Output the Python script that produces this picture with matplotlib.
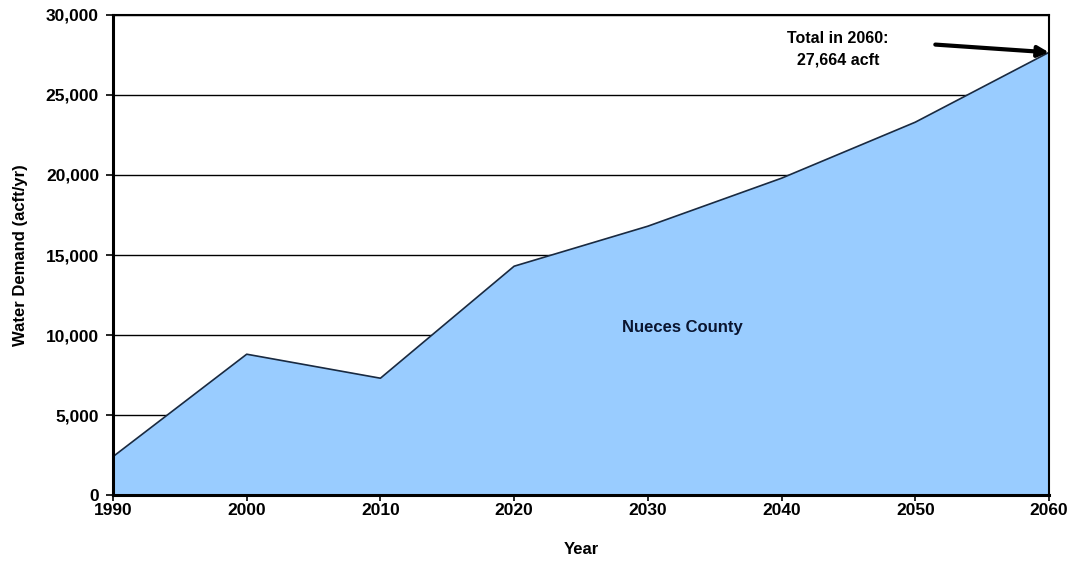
import matplotlib.pyplot as plt
from matplotlib.ticker import FuncFormatter

# Data
years = [1990, 2000, 2010, 2020, 2030, 2040, 2050, 2060]
demand = [2400, 8800, 7300, 14300, 16800, 19800, 23300, 27664]

plt.rcParams['font.family'] = ['Liberation Sans', 'DejaVu Sans']
plt.rcParams['font.weight'] = 'bold'

fig = plt.figure(figsize=(10.73, 5.61), dpi=100)
ax = fig.add_axes([0.1053, 0.1176, 0.8723, 0.8557])

# grid behind the filled area
for y in range(5000, 30001, 5000):
    ax.axhline(y, color='black', lw=1.0, zorder=0)

ax.fill_between(years, demand, 0, color='#99CCFF', zorder=1)
ax.plot(years, demand, color='#1a2a40', lw=1.2, zorder=2)

ax.set_xlim(1990, 2060)
ax.set_ylim(0, 30000)
ax.set_xticks(years)
ax.set_yticks(range(0, 30001, 5000))
ax.yaxis.set_major_formatter(FuncFormatter(lambda v, p: f'{int(v):,}'))
ax.tick_params(labelsize=12.5, length=5, width=1.2, direction='out', pad=5)
ax.tick_params(axis='x', length=4, pad=2)
for lab in ax.get_xticklabels() + ax.get_yticklabels():
    lab.set_fontweight('bold')

for side in ['left', 'bottom']:
    ax.spines[side].set_linewidth(2.2)
for side in ['top', 'right']:
    ax.spines[side].set_linewidth(1.5)
ax.spines['top'].set_zorder(3)

ax.set_xlabel('Year', fontsize=12, fontweight='bold', labelpad=17)
ax.set_ylabel('Water Demand (acft/yr)', fontsize=12, fontweight='bold', labelpad=13)

ax.text(2032.6, 10500, 'Nueces County', fontsize=12, fontweight='bold',
        color='#0a1530', ha='center', va='center', zorder=4)

# Annotate the 2060 total
ax.text(2044.2, 27850, 'Total in 2060:\n27,664 acft', fontsize=11.5, fontweight='bold',
        ha='center', va='center', linespacing=1.5, zorder=5)
ax.annotate('', xy=(2060, demand[-1]), xytext=(2051.5, 28150),
            arrowprops=dict(arrowstyle='-|>', color='black', lw=3, shrinkA=0, shrinkB=0,
                            mutation_scale=16),
            zorder=5)

fig.savefig('out.png', dpi=100)
